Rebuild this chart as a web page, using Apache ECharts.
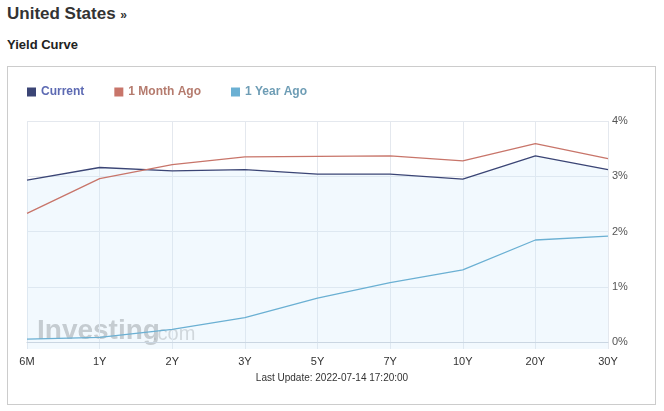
<!DOCTYPE html>
<html><head><meta charset="utf-8">
<script src="https://cdn.jsdelivr.net/npm/echarts@6/dist/echarts.min.js"></script>
<style>
html,body{margin:0;padding:0;background:#fff;width:664px;height:411px;overflow:hidden;font-family:"Liberation Sans",Arial,sans-serif;}
#h1{position:absolute;left:7px;top:4px;font-size:17px;font-weight:bold;color:#333;}
#h1 span{font-size:12px;font-weight:bold;}
#h2{position:absolute;left:7px;top:37px;font-size:13px;font-weight:bold;color:#222;}
#frame{position:absolute;left:7px;top:66px;width:647px;height:337px;border:1px solid #ccc;}
#chart{position:absolute;left:0;top:0;width:664px;height:411px;}
</style></head>
<body>
<div id="h1">United States <span>»</span></div>
<div id="h2">Yield Curve</div>
<div id="frame"></div>
<div id="chart"></div>
<script>
const categories = ['6M','1Y','2Y','3Y','5Y','7Y','10Y','20Y','30Y'];
const current = [2.93, 3.16, 3.10, 3.12, 3.04, 3.04, 2.95, 3.37, 3.12];
const monthAgo = [2.33, 2.96, 3.21, 3.35, 3.36, 3.37, 3.28, 3.59, 3.32];
const yearAgo = [0.06, 0.09, 0.235, 0.445, 0.80, 1.08, 1.31, 1.85, 1.92];
const yTicks = [0, 1, 2, 3, 4];
const updateText = 'Last Update: 2022-07-14 17:20:00';

const chart = echarts.init(document.getElementById('chart'), null, {renderer:'canvas'});
chart.setOption({
  animation:false,
  backgroundColor:'transparent',
  legend:{
    left:22, top:81, icon:'rect', itemWidth:9, itemHeight:9, itemGap:30,
    textStyle:{fontSize:12, fontWeight:'bold', fontFamily:'Liberation Sans'},
    data:[
      {name:'Current', textStyle:{color:'#5d6ab3'}},
      {name:'1 Month Ago', textStyle:{color:'#b57b6e'}},
      {name:'1 Year Ago', textStyle:{color:'#6e9db5'}}
    ]
  },
  grid:{left:27, right:56, top:121, bottom:62},
  xAxis:{
    type:'category', data:categories, boundaryGap:false,
    axisLine:{lineStyle:{color:'#c8cfd8'}},
    axisTick:{show:false},
    axisLabel:{color:'#333', fontSize:11, fontFamily:'Liberation Sans', margin:7},
    splitLine:{show:true, lineStyle:{color:'#e4e8ee'}}
  },
  yAxis:{
    type:'value', position:'right', min:-0.12, max:4,
    axisLine:{show:false}, axisTick:{show:false, customValues:yTicks},
    axisLabel:{customValues:yTicks, formatter:'{value}%', color:'#555', fontSize:11, fontFamily:'Liberation Sans', margin:4},
    splitLine:{show:true, lineStyle:{color:'#e4e8ee'}}
  },
  graphic:[
    {type:'text', left:37, top:317, z:0, style:{text:'Investing', font:'bold 28px "Liberation Sans"', fill:'rgba(150,150,150,0.6)'}},
    {type:'text', left:152, top:324, z:0, style:{text:'.com', font:'20px "Liberation Sans"', fill:'rgba(150,150,150,0.45)'}},
    {type:'text', left:'center', top:373, style:{text:updateText, font:'10px "Liberation Sans"', fill:'#333'}}
  ],
  series:[
    {name:'Current', type:'line', data:current, symbol:'none', color:'#3b4575',
      lineStyle:{width:1.3, color:'#3b4575'}, areaStyle:{color:'rgba(210,232,250,0.4)', origin:'start'}},
    {name:'1 Month Ago', type:'line', data:monthAgo, symbol:'none', color:'#c8756a',
      lineStyle:{width:1.3, color:'#c8756a'}},
    {name:'1 Year Ago', type:'line', data:yearAgo, symbol:'none', color:'#6bb0d3',
      lineStyle:{width:1.3, color:'#6bb0d3'}}
  ]
});
</script>
</body></html>
